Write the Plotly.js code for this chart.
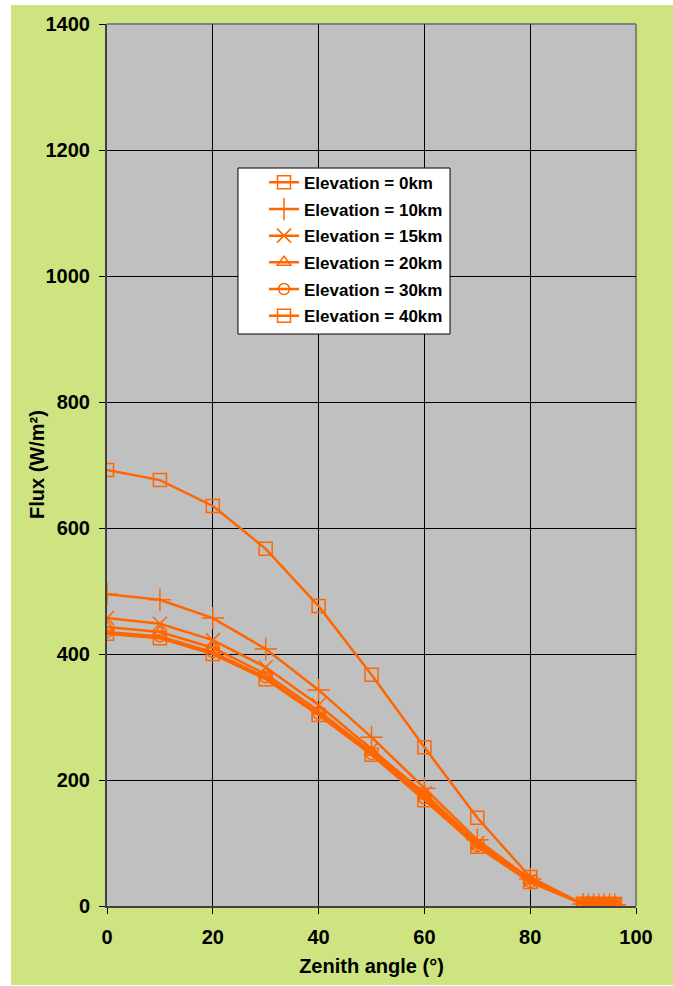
<!DOCTYPE html>
<html>
<head>
<meta charset="utf-8">
<script src="https://cdn.plot.ly/plotly-3.0.1.min.js"></script>
<style>html,body{margin:0;padding:0;background:#fff;}#chart{width:673px;height:986px;}</style>
</head>
<body>
<div id="chart"></div>
<script>
// Zenith angles (degrees)
const zenith = [0, 10, 20, 30, 40, 50, 60, 70, 80, 90, 91, 92, 93, 94, 95, 96];

// Flux (W/m²) per elevation
const flux0km  = [692, 676, 635, 567, 476, 367, 252, 140, 46, 3, 2, 2, 2, 2, 2, 2];
const flux10km = [495, 486, 457, 408, 343, 268, 187, 105, 43, 3, 2, 2, 2, 2, 2, 2];
const flux15km = [457, 448, 422, 379, 319, 249, 179, 100, 41, 3, 2, 2, 2, 2, 2, 2];
const flux20km = [443, 435, 410, 368, 310, 244, 175, 97, 40, 3, 2, 2, 2, 2, 2, 2];
const flux30km = [435, 428, 403, 363, 305, 241, 171, 95, 38, 3, 2, 2, 2, 2, 2, 2];
const flux40km = [432, 425, 400, 360, 303, 240, 168, 94, 38, 3, 3, 3, 3, 3, 3, 3];

const seriesNames = ["Elevation = 0km", "Elevation = 10km", "Elevation = 15km",
                     "Elevation = 20km", "Elevation = 30km", "Elevation = 40km"];
const seriesData = [flux0km, flux10km, flux15km, flux20km, flux30km, flux40km];
const symbols = ["square-open", "cross-thin-open", "x-thin-open", "triangle-up-open", "circle-open", "square-open"];
const sizes = [13, 16, 14, 12, 11, 13];

const xTitle = "Zenith angle (°)";
const yTitle = "Flux (W/m²)";

const orange = "#FF6600";
const font = "Liberation Sans, Arial, sans-serif";

const traces = seriesData.map((ys, i) => ({
  type: "scatter",
  mode: "lines+markers",
  x: zenith,
  y: ys,
  name: seriesNames[i],
  legendgroup: "g" + i,
  line: {color: orange, width: 2.5},
  marker: {symbol: symbols[i], size: sizes[i], color: orange, line: {color: orange, width: 1.5}},
  hoverinfo: "x+y+name"
}));

const layout = {
  width: 673,
  height: 986,
  margin: {l: 107, r: 37, t: 24, b: 80, pad: 0},
  paper_bgcolor: "#ffffff",
  plot_bgcolor: "#C0C0C0",
  showlegend: true,
  font: {family: font, color: "#000"},
  xaxis: {
    range: [0, 100],
    dtick: 20,
    tick0: 0,
    showgrid: true,
    gridcolor: "#000",
    gridwidth: 1,
    zeroline: false,
    showline: true,
    linecolor: "#404040",
    linewidth: 2,
    ticks: "outside",
    ticklen: 6,
    tickcolor: "#000",
    ticklabelstandoff: 6,
    tickfont: {family: font, size: 20, weight: "bold", color: "#000"},
    title: {text: xTitle, font: {family: font, size: 20, weight: "bold", color: "#000"}, standoff: 12}
  },
  yaxis: {
    range: [0, 1400],
    dtick: 200,
    tick0: 0,
    showgrid: true,
    gridcolor: "#000",
    gridwidth: 1,
    zeroline: false,
    showline: true,
    linecolor: "#404040",
    linewidth: 2,
    ticks: "outside",
    ticklen: 6,
    tickcolor: "#000",
    ticklabelstandoff: 5,
    tickfont: {family: font, size: 20, weight: "bold", color: "#000"}
  },
  annotations: [
    {text: yTitle, xref: "paper", yref: "paper", x: -0.1323, y: 0.5, xanchor: "center", yanchor: "middle",
     textangle: -90, showarrow: false, font: {family: font, size: 20, weight: "bold", color: "#000"}}
  ],
  legend: {
    x: 0.2968, y: 0.8405, xanchor: "left", yanchor: "top",
    bgcolor: "rgba(0,0,0,0)",
    borderwidth: 0,
    font: {family: font, size: 17, weight: "bold", color: "#000"},
    tracegroupgap: 1.6,
    traceorder: "grouped"
  },
  shapes: [
    {type: "rect", xref: "paper", yref: "paper", x0: -0.1815, x1: 1.08, y0: -0.0896, y1: 1.0215,
     fillcolor: "#CDE480", line: {width: 0}, layer: "below"},
    {type: "rect", xref: "paper", yref: "paper", x0: 0, x1: 1, y0: 0, y1: 1,
     fillcolor: "#C0C0C0", line: {width: 0}, layer: "below"},
    {type: "line", xref: "paper", yref: "paper", x0: 0, x1: 1, y0: 1, y1: 1,
     line: {color: "#808080", width: 2}, layer: "between"},
    {type: "line", xref: "paper", yref: "paper", x0: 1, x1: 1, y0: 0, y1: 1,
     line: {color: "#808080", width: 2}, layer: "between"},
    // legend box
    {type: "rect", xref: "paper", yref: "paper", x0: 0.2476, x1: 0.6484, y0: 0.6485, y1: 0.8367,
     fillcolor: "#ffffff", line: {color: "#000", width: 1}, layer: "above"}
  ]
};

Plotly.newPlot("chart", traces, layout, {staticPlot: true, displayModeBar: false});
</script>
</body>
</html>
